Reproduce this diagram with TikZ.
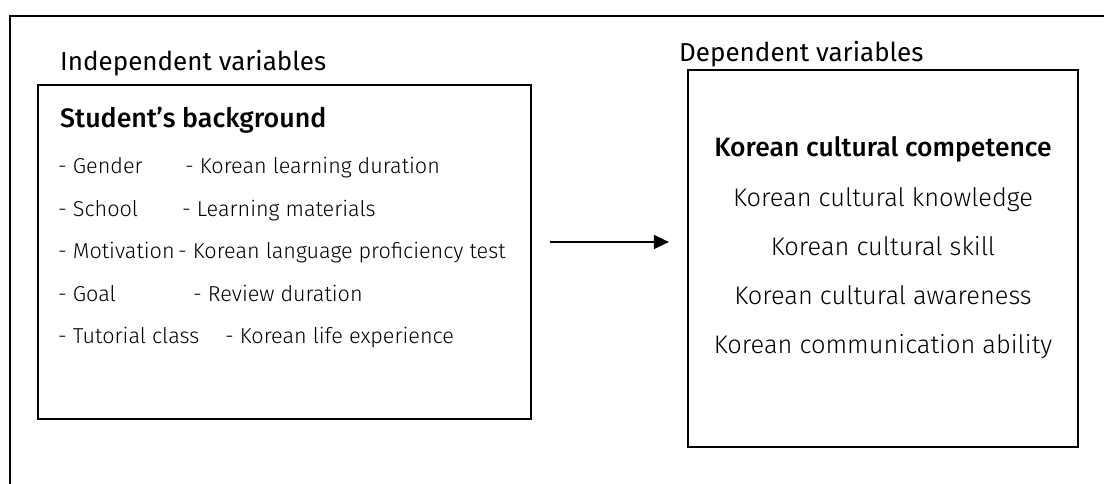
\documentclass[tikz,border=0pt]{standalone}
\usepackage{fontspec}
\setmainfont{Fira Sans}[UprightFont=* Light, BoldFont=* Medium]
\newfontfamily\headfont{Fira Sans}
\usetikzlibrary{arrows.meta}
\tikzset{
  frame/.style={line width=2.2pt},
  heading/.style={anchor=base west, inner sep=0pt, font=\headfont\fontsize{26}{30}\selectfont},
  item/.style={anchor=base west, inner sep=0pt, font=\fontsize{21.6}{26}\selectfont},
  outcome/.style={anchor=base, inner sep=0pt, font=\fontsize{25.4}{30}\selectfont},
  link/.style={line width=1.3pt, -{Triangle[length=15pt,width=14pt]}}
}
\begin{document}
\begin{tikzpicture}[x=1pt,y=-1pt]
\useasboundingbox (0,0) rectangle (1106,484);
% outer frame: top and left sides
\coordinate (fbl) at (10,484);
\coordinate (ftl) at (10,16);
\coordinate (ftr) at (1104,16);
\draw[frame] (fbl) -- (ftl) -- (ftr);

% independent variables
\node[heading] (indep) at (60,71) {Independent variables};
\node[draw, frame, inner sep=0pt, minimum width=493pt, minimum height=334pt] (lbox) at (284.5,252) {};
\node[heading, font=\fontsize{26.8}{30}\selectfont\bfseries] (bg) at (60,128) {Student’s background};
\node[item] (g1) at (58,173) {- Gender};
\node[item] (g2) at (185,173) {- Korean learning duration};
\node[item] (s1) at (58,216) {- School};
\node[item] (s2) at (182,216) {- Learning materials};
\node[item] (m1) at (58,258) {- Motivation};
\node[item] (m2) at (178,258) {- Korean language proficiency test};
\node[item] (o1) at (58,301) {- Goal};
\node[item] (o2) at (193,301) {- Review duration};
\node[item] (t1) at (58,343) {- Tutorial class};
\node[item] (t2) at (225,343) {- Korean life experience};

% dependent variables
\node[heading] (dep) at (679,62) {Dependent variables};
\node[draw, frame, inner sep=0pt, minimum width=390pt, minimum height=377pt] (rbox) at (883,258.5) {};
\node[outcome, font=\fontsize{26.5}{30}\selectfont\bfseries] (c0) at (883,157) {Korean cultural competence};
\node[outcome] (c1) at (883,206) {Korean cultural knowledge};
\node[outcome] (c2) at (883,255) {Korean cultural skill};
\node[outcome] (c3) at (883,304) {Korean cultural awareness};
\node[outcome] (c4) at (883,353) {Korean communication ability};

% relation
\draw[link, shorten <=18pt, shorten >=18pt] (lbox.east |- 0,242) -- (rbox.west |- 0,242);
\end{tikzpicture}
\end{document}
